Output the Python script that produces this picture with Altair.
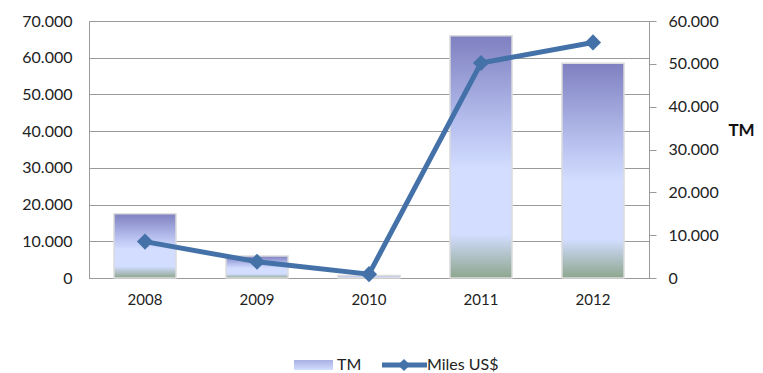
import altair as alt
import pandas as pd

years = ["2008", "2009", "2010", "2011", "2012"]
tm_values = [17500, 6000, 700, 66000, 58500]
miles_values = [8500, 3800, 900, 50200, 55000]

df = pd.DataFrame({"year": years, "TM": tm_values, "Miles": miles_values})

FONT = "Lato"
GRID = "#9a9a9a"
LINE = "#4472a8"
fmt = "replace(format(datum.value, ',.0f'), ',', '.')"

grad = alt.LinearGradient(
    gradient="linear",
    stops=[
        alt.GradientStop(color="#7f80c0", offset=0),
        alt.GradientStop(color="#b4bdec", offset=0.35),
        alt.GradientStop(color="#d2ddff", offset=0.55),
        alt.GradientStop(color="#d2ddff", offset=0.82),
        alt.GradientStop(color="#8ea68e", offset=1),
    ],
    x1=0, x2=0, y1=0, y2=1,
)

xenc = alt.X(
    "year:N",
    title=None,
    sort=years,
    scale=alt.Scale(paddingInner=0.446, paddingOuter=0.223),
    axis=alt.Axis(labelAngle=0, ticks=False, labelPadding=14, labelFontSize=15,
                  labelFont=FONT, labelColor="#222222", domainColor=GRID, grid=False),
)

bars = alt.Chart(df).mark_bar(color=grad, stroke="#dcdcdc", strokeWidth=1.5).encode(
    x=xenc,
    y=alt.Y(
        "TM:Q",
        title=None,
        scale=alt.Scale(domain=[0, 70000], nice=False),
        axis=alt.Axis(values=[0, 10000, 20000, 30000, 40000, 50000, 60000, 70000],
                      labelExpr=fmt, ticks=False, labelPadding=17, labelFontSize=16,
                      labelFont=FONT, labelColor="#222222", domainColor=GRID,
                      grid=True, gridColor=GRID, gridWidth=1),
    ),
)

line = alt.Chart(df).mark_line(color=LINE, strokeWidth=5,
                               point=alt.OverlayMarkDef(shape="diamond", size=260, color=LINE, filled=True, opacity=1)).encode(
    x=alt.X("year:N", sort=years),
    y=alt.Y(
        "Miles:Q",
        title="TM",
        scale=alt.Scale(domain=[0, 60000], nice=False),
        axis=alt.Axis(orient="right", values=[0, 10000, 20000, 30000, 40000, 50000, 60000],
                      labelExpr=fmt, tickSize=7, tickColor=GRID, labelPadding=12,
                      labelFontSize=16, labelFont=FONT, labelColor="#222222",
                      domainColor=GRID, grid=False,
                      titleAngle=0, titleX=92, titleY=109, titleAlign="center",
                      titleBaseline="middle", titleFontSize=17, titleFontWeight="bold",
                      titleFont=FONT, titleColor="#111111"),
    ),
)

LEG_Y = 344

# custom legend
leg_bar = alt.Chart(df.head(1)).mark_rect(
    color=alt.LinearGradient(gradient="linear",
                             stops=[alt.GradientStop(color="#a8b0e4", offset=0),
                                    alt.GradientStop(color="#d2ddff", offset=1)],
                             x1=0, x2=0, y1=0, y2=1)
).encode(x=alt.value(205), x2=alt.value(244), y=alt.value(LEG_Y - 5), y2=alt.value(LEG_Y + 5))
leg_bar_txt = alt.Chart(df.head(1)).mark_text(
    text="TM", align="left", baseline="middle", fontSize=16, font=FONT, color="#222222"
).encode(x=alt.value(248), y=alt.value(LEG_Y))
leg_line = alt.Chart(df.head(1)).mark_rule(color=LINE, strokeWidth=5).encode(
    x=alt.value(293), x2=alt.value(338), y=alt.value(LEG_Y))
leg_pt = alt.Chart(df.head(1)).mark_point(shape="diamond", size=150, color=LINE, filled=True, opacity=1).encode(
    x=alt.value(315), y=alt.value(LEG_Y))
leg_line_txt = alt.Chart(df.head(1)).mark_text(
    text="Miles US$", align="left", baseline="middle", fontSize=16, font=FONT, color="#222222"
).encode(x=alt.value(338), y=alt.value(LEG_Y))

main = alt.layer(bars, line).resolve_scale(y="independent")

chart = alt.layer(main, leg_bar, leg_bar_txt, leg_line, leg_pt, leg_line_txt).properties(
    width=560, height=257,
    autosize=alt.AutoSizeParams(type="none"),
    padding={"left": 81, "top": 13, "right": 106, "bottom": 95},
).configure_view(stroke=None).configure(background="white")

chart.save("out.html", embed_options={"renderer": "svg", "actions": False})
